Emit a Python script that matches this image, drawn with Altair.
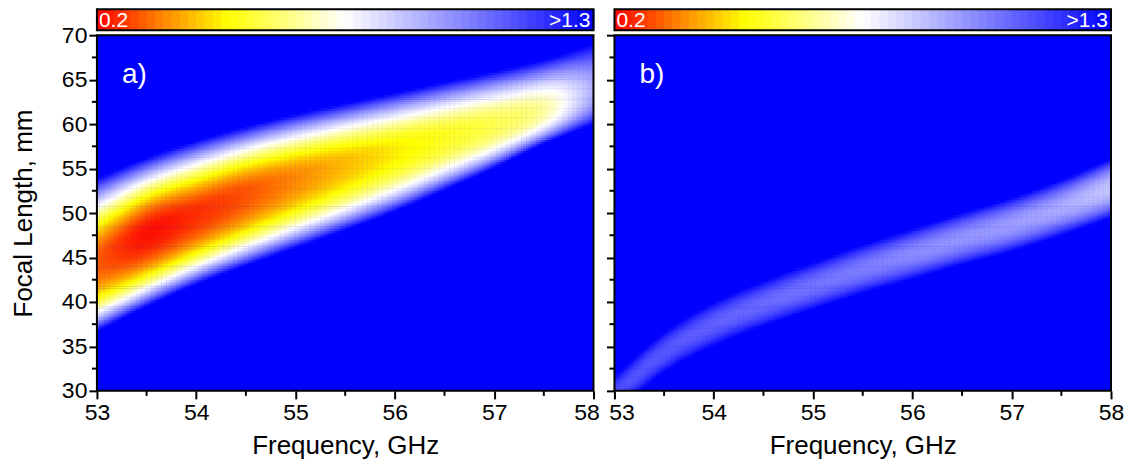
import numpy as np
import pandas as pd
import altair as alt

# ---------------- data ----------------
# frequency knots (GHz) at which the ridge was read
FREQ_KNOTS = [53.0, 53.5, 54.0, 54.5, 55.0, 55.5, 56.0, 56.5, 57.0, 57.5, 58.0]

# panel a): ridge centre (mm), lowest value on the ridge,
# upper / lower focal length (mm) where the >1.3 (blue) region starts
A_CENTER = [44.9, 48.0, 50.2, 52.4, 54.2, 55.8, 57.3, 58.8, 60.2, 61.8, 64.0]
A_LEVEL = [0.30, 0.22, 0.25, 0.29, 0.35, 0.41, 0.47, 0.52, 0.57, 0.65, 0.92]
A_TOP = [53.9, 56.2, 58.1, 59.7, 61.1, 62.3, 63.5, 64.7, 65.9, 67.2, 69.0]
A_BOTTOM = [36.7, 39.5, 42.0, 44.1, 46.1, 48.1, 50.2, 52.6, 55.1, 57.8, 60.0]
A_SHAPE = (1.8, 2.6)

# panel b)
B_CENTER = [29.6, 34.3, 37.5, 39.8, 41.8, 43.7, 45.4, 47.1, 48.7, 50.6, 52.8]
B_LEVEL = [1.13, 1.11, 1.09, 1.07, 1.05, 1.03, 1.00, 0.98, 0.96, 0.93, 0.87]
B_TOP = [31.6, 36.5, 39.9, 42.3, 44.4, 46.4, 48.2, 50.0, 51.7, 53.7, 56.1]
B_BOTTOM = [27.6, 32.1, 35.1, 37.3, 39.2, 41.0, 42.6, 44.2, 45.7, 47.5, 49.5]
B_SHAPE = (2.0, 2.0)

# colour scale
CMAP_DOMAIN = [0.2, 0.34, 0.49, 0.75, 1.3]
CMAP_RANGE = ["#ff0000", "#ff8000", "#ffff00", "#ffffff", "#0000ff"]
VMIN, VMAX = 0.2, 1.3

X_TICKS = [53, 54, 55, 56, 57, 58]
X_MINOR = [53.5, 54.5, 55.5, 56.5, 57.5]
Y_TICKS = [30, 35, 40, 45, 50, 55, 60, 65, 70]
Y_MINOR = [32.5, 37.5, 42.5, 47.5, 52.5, 57.5, 62.5, 67.5]

FONT = "Liberation Sans"
W, H = 497, 356
CB_H = 21
DF, DL = 0.025, 0.25


def smooth(x, xk, yk):
    """Cubic Hermite (Catmull-Rom) curve through the read knots."""
    xk = np.asarray(xk, float)
    yk = np.asarray(yk, float)
    n = len(xk)
    h = xk[1] - xk[0]
    m = np.empty(n)
    m[1:-1] = (yk[2:] - yk[:-2]) / (2 * h)
    m[0] = (yk[1] - yk[0]) / h
    m[-1] = (yk[-1] - yk[-2]) / h
    i = np.clip(((x - xk[0]) // h).astype(int), 0, n - 2)
    t = (x - xk[i]) / h
    h00 = 2 * t**3 - 3 * t**2 + 1
    h10 = t**3 - 2 * t**2 + t
    h01 = -2 * t**3 + 3 * t**2
    h11 = t**3 - t**2
    return h00 * yk[i] + h10 * h * m[i] + h01 * yk[i + 1] + h11 * h * m[i + 1]


def build_field(center, level, top, bottom, shape):
    f = np.arange(53 + DF / 2, 58, DF)
    l = np.arange(30 + DL / 2, 70, DL)
    c = smooth(f, FREQ_KNOTS, center)[:, None]
    lv = smooth(f, FREQ_KNOTS, level)[:, None]
    wu = smooth(f, FREQ_KNOTS, top)[:, None] - c
    wd = c - smooth(f, FREQ_KNOTS, bottom)[:, None]
    FF, LL = np.meshgrid(f, l, indexing="ij")
    d = LL - c
    w = np.where(d >= 0, wu, wd)
    p = np.where(d >= 0, shape[0], shape[1])
    v = lv + (VMAX - lv) * (np.abs(d) / w) ** p
    mk = v < VMAX
    return pd.DataFrame({
        "freq": np.round(FF[mk] - 0.6 * DF, 4),
        "freq2": np.round(FF[mk] + 0.6 * DF, 4),
        "focal": np.round(LL[mk] - 0.6 * DL, 4),
        "focal2": np.round(LL[mk] + 0.6 * DL, 4),
        "v": np.round(v[mk], 4),
    })


color_scale = alt.Scale(domain=CMAP_DOMAIN, range=CMAP_RANGE, interpolate="rgb", clamp=True)
xs = alt.Scale(domain=[53, 58], nice=False, zero=False)
ys = alt.Scale(domain=[30, 70], nice=False, zero=False)


def x_axis(edge_value, edge_shift):
    return alt.Axis(
        values=X_TICKS, format="d", title="Frequency, GHz", grid=False, domain=False,
        tickSize=8, tickWidth=2, tickColor="black", labelFont=FONT, labelFontSize=23,
        labelColor="black", labelPadding=3, labelFlush=False,
        labelOffset={"condition": {"test": f"datum.value == {edge_value}", "value": edge_shift},
                     "value": 0},
        titleFont=FONT, titleFontSize=26, titleFontWeight="normal", titleColor="black",
        titlePadding=8)


def y_axis(show):
    kw = dict(values=Y_TICKS, format="d", labels=show, grid=False, domain=False,
              tickSize=8, tickWidth=2, tickColor="black", labelFont=FONT, labelFontSize=23,
              labelColor="black", labelPadding=2, labelFlush=False, titleFont=FONT,
              titleFontSize=26, titleFontWeight="normal", titleColor="black", titlePadding=25)
    kw["title"] = "Focal Length, mm" if show else ""
    return alt.Axis(**kw)


def panel(df, label, show_labels, edge_value, edge_shift):
    ya = y_axis(show_labels)
    xa = x_axis(edge_value, edge_shift)
    heat = alt.Chart(df).mark_rect(clip=True).encode(
        x=alt.X("freq:Q", scale=xs, axis=xa),
        x2="freq2:Q",
        y=alt.Y("focal:Q", scale=ys, axis=ya),
        y2="focal2:Q",
        color=alt.Color("v:Q", scale=color_scale, legend=None),
    )
    xminor = alt.Chart(pd.DataFrame({"freq": X_MINOR})).mark_rule(
        color="black", strokeWidth=2, clip=False).encode(
        x=alt.X("freq:Q", scale=xs, axis=xa), y=alt.value(H), y2=alt.value(H + 5))
    yminor = alt.Chart(pd.DataFrame({"focal": Y_MINOR})).mark_rule(
        color="black", strokeWidth=2, clip=False).encode(
        y=alt.Y("focal:Q", scale=ys, axis=ya), x=alt.value(-5), x2=alt.value(0))
    one = pd.DataFrame({"t": [label]})
    frame = alt.Chart(one).mark_rect(fillOpacity=0, stroke="black", strokeWidth=2).encode(
        x=alt.value(0), x2=alt.value(W), y=alt.value(0), y2=alt.value(H))
    txt = alt.Chart(one).mark_text(
        color="white", font=FONT, fontSize=28, align="left", baseline="alphabetic").encode(
        x=alt.value(25), y=alt.value(48), text="t:N")
    return alt.layer(heat, xminor, yminor, frame, txt).properties(
        width=W, height=H, view=alt.ViewBackground(fill="#0000ff", strokeWidth=0))


def colorbar():
    n = 60
    edges = np.linspace(VMIN, VMAX, n + 1)
    cb = pd.DataFrame({"v": np.round(edges[:-1], 4), "v2": np.round(edges[1:] + 0.002, 4)})
    cb["c"] = np.round((cb["v"] + cb["v2"]) / 2, 4)
    bar = alt.Chart(cb).mark_rect().encode(
        x=alt.X("v:Q", scale=alt.Scale(domain=[VMIN, VMAX], nice=False, zero=False), axis=None),
        x2="v2:Q", y=alt.value(0), y2=alt.value(CB_H),
        color=alt.Color("c:Q", scale=color_scale, legend=None))
    tl = alt.Chart(pd.DataFrame({"t": ["0.2"]})).mark_text(
        color="white", font=FONT, fontSize=21, align="left", baseline="middle").encode(
        x=alt.value(2), y=alt.value(CB_H / 2 + 1), text="t:N")
    tr = alt.Chart(pd.DataFrame({"t": [">1.3"]})).mark_text(
        color="white", font=FONT, fontSize=21, align="right", baseline="middle").encode(
        x=alt.value(W - 3), y=alt.value(CB_H / 2 + 1), text="t:N")
    fr = alt.Chart(pd.DataFrame({"k": [0]})).mark_rect(
        fillOpacity=0, stroke="black", strokeWidth=2).encode(
        x=alt.value(0), x2=alt.value(W), y=alt.value(0), y2=alt.value(CB_H))
    return alt.layer(bar, tl, tr, fr).properties(
        width=W, height=CB_H, view=alt.ViewBackground(strokeWidth=0))


df_a = build_field(A_CENTER, A_LEVEL, A_TOP, A_BOTTOM, A_SHAPE)
df_b = build_field(B_CENTER, B_LEVEL, B_TOP, B_BOTTOM, B_SHAPE)

chart = alt.concat(
    colorbar(), colorbar(),
    panel(df_a, "a)", True, 58, -7), panel(df_b, "b)", False, 53, 7),
    columns=2, bounds="flush", spacing={"row": 5, "column": 21},
).properties(
    padding={"left": 2, "top": 0, "right": 5, "bottom": 5},
    background="white",
).resolve_scale(color="shared").configure_view(strokeWidth=0)

chart.save("out.html", embed_options={"renderer": "svg", "actions": False})
